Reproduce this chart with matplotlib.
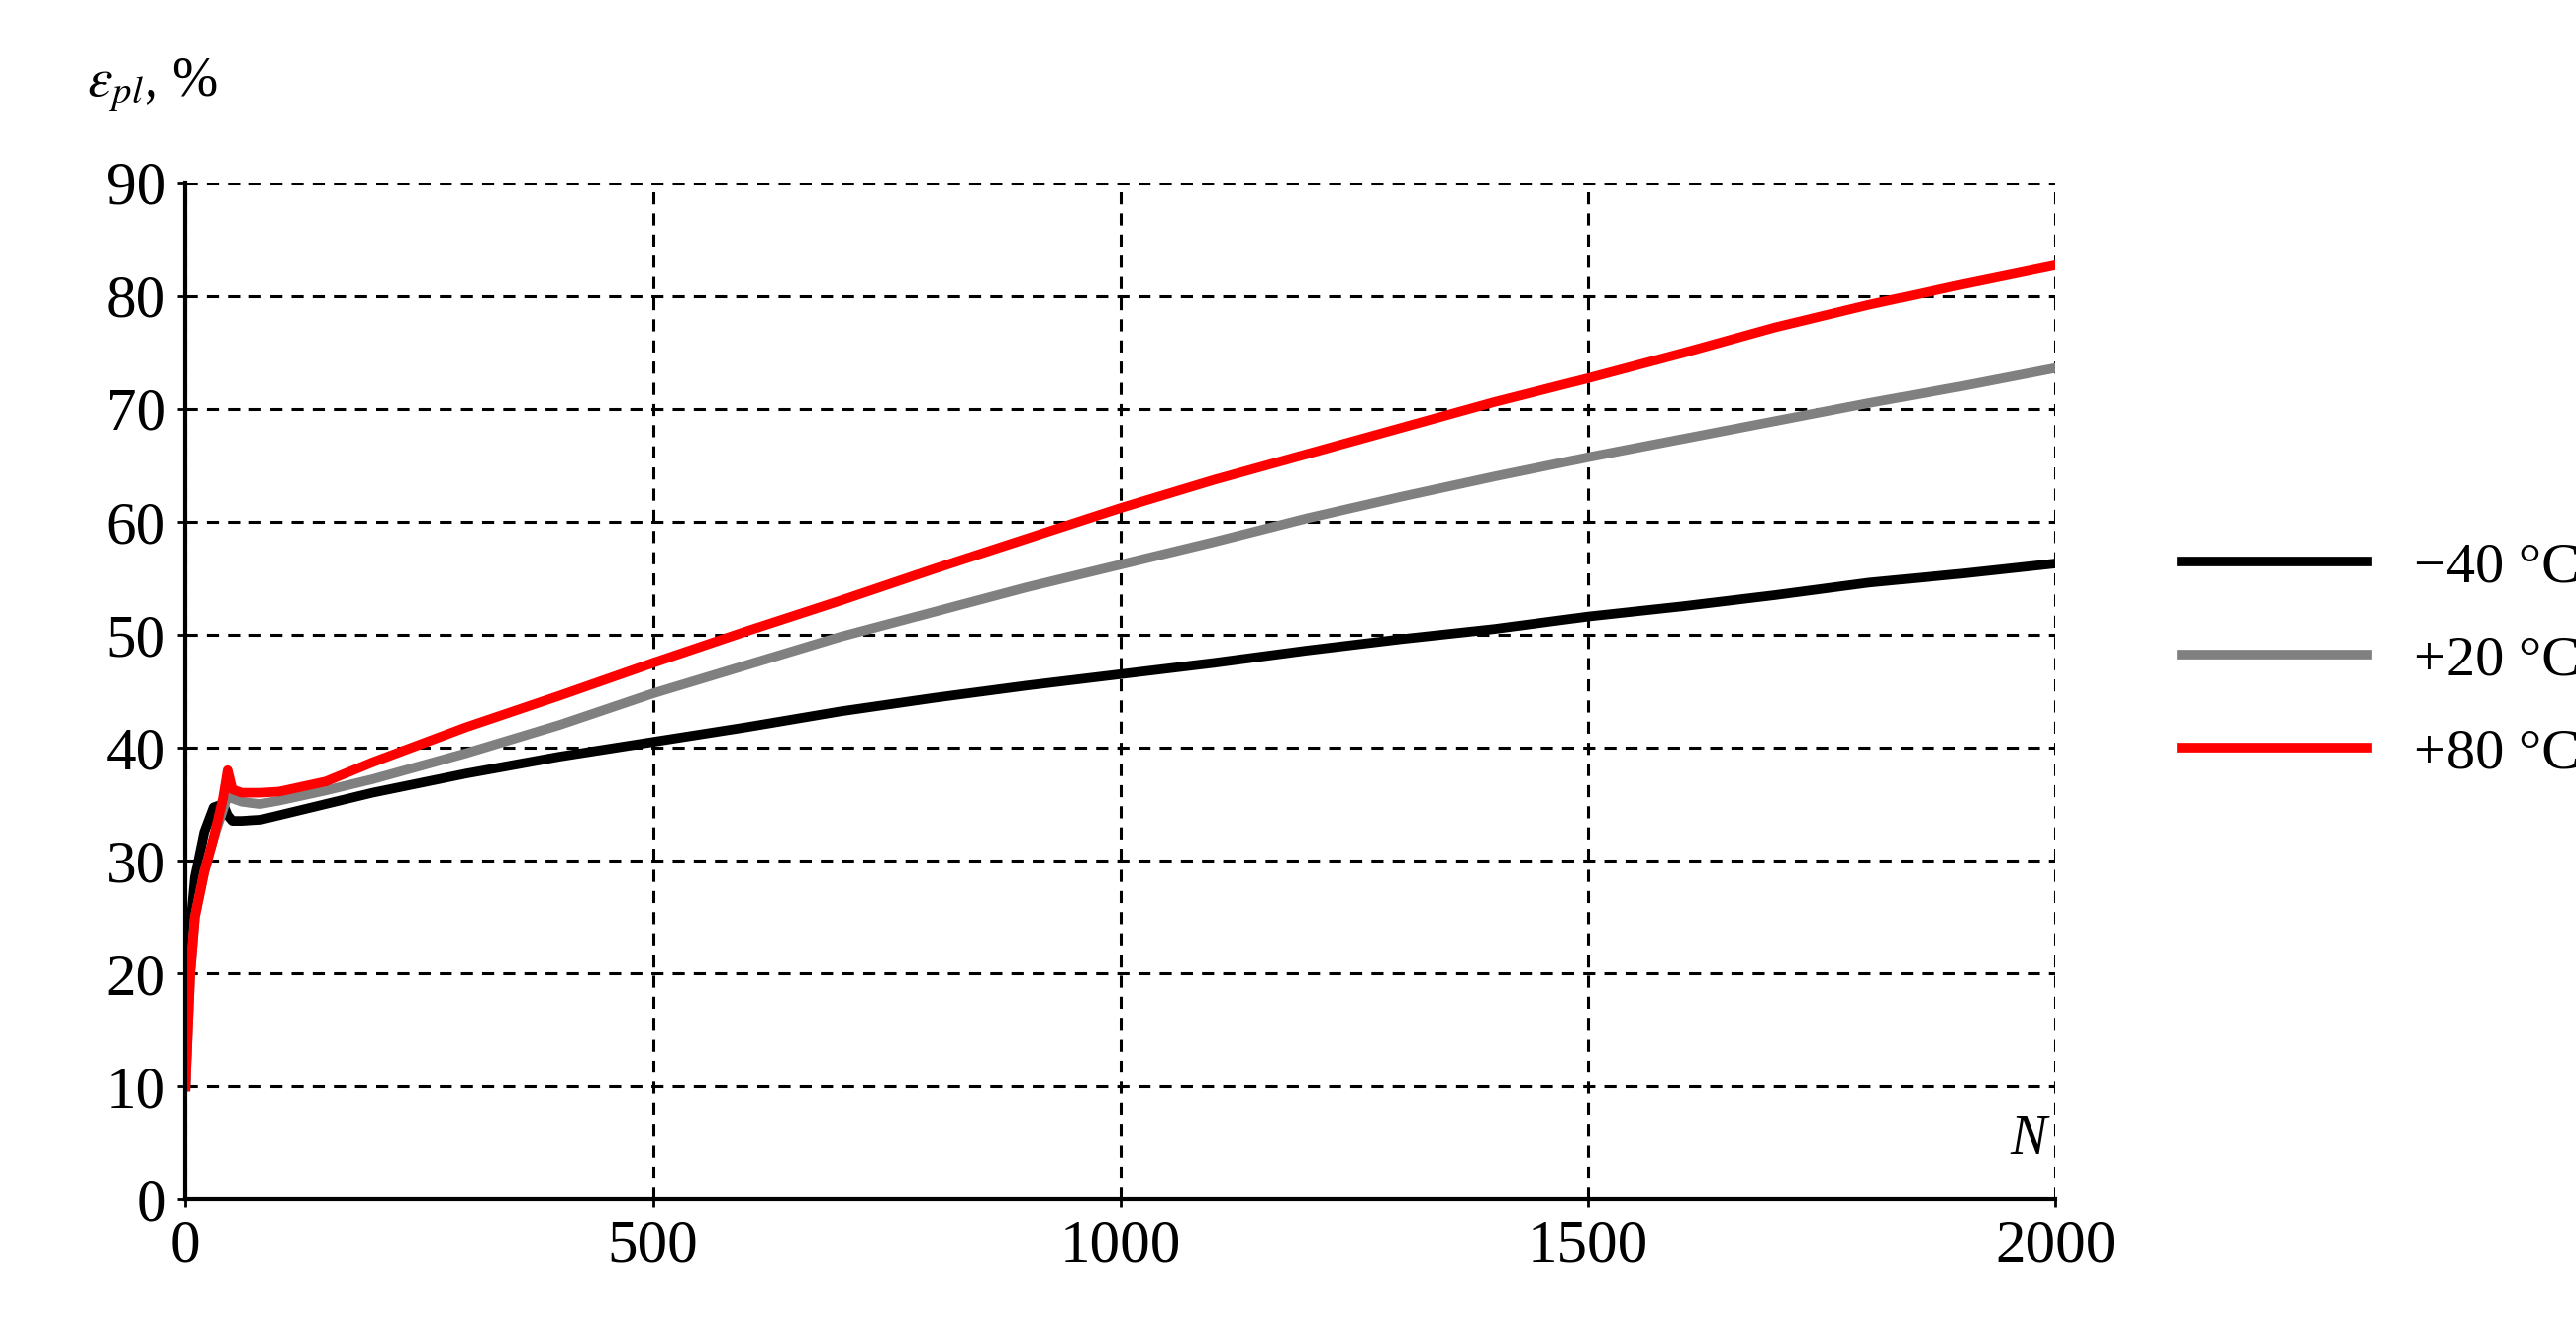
import matplotlib.pyplot as plt

plt.rcParams['font.family'] = ['Liberation Serif', 'DejaVu Serif']
plt.rcParams['mathtext.fontset'] = 'stix'

N = [0, 5, 10, 20, 30, 40, 45, 50, 60, 80, 100, 150, 200, 300, 400, 500,
     600, 700, 800, 900, 1000, 1100, 1200, 1300, 1400, 1500, 1600, 1700, 1800, 1900, 2000]
eps_m40 = [10, 24, 28.5, 32.5, 34.7, 35, 34, 33.5, 33.5, 33.6, 34, 35, 36, 37.7, 39.2, 40.5,
           41.8, 43.2, 44.4, 45.5, 46.5, 47.5, 48.6, 49.6, 50.5, 51.6, 52.5, 53.5, 54.6, 55.4, 56.3]
eps_p20 = [10, 20, 25, 29, 32, 34.5, 35.8, 35.5, 35.2, 35, 35.3, 36.2, 37.2, 39.5, 42, 44.8,
           47.3, 49.8, 52, 54.2, 56.2, 58.2, 60.3, 62.2, 64, 65.7, 67.3, 68.9, 70.5, 72, 73.6]
eps_p80 = [10, 20, 25, 29, 32, 35.5, 38, 36.3, 36, 36, 36.1, 37, 38.7, 41.8, 44.6, 47.5,
           50.3, 53, 55.8, 58.5, 61.2, 63.7, 66, 68.3, 70.6, 72.7, 74.9, 77.2, 79.2, 81, 82.7]
labels = ['\u221240 \u00b0C', '+20 \u00b0C', '+80 \u00b0C']
colors = ['black', '#808080', '#ff0000']

fig = plt.figure(figsize=(26.02, 13.37), dpi=100)
ax = fig.add_axes([0.072, 0.094, 0.726, 0.768])
for y, lab, c in zip([eps_m40, eps_p20, eps_p80], labels, colors):
    ax.plot(N, y, color=c, lw=7, label=lab, solid_joinstyle='round')

ax.set_xlim(0, 2000)
ax.set_ylim(0, 90)
ax.set_xticks([0, 500, 1000, 1500, 2000])
ax.set_yticks(range(0, 91, 10))
ax.grid(True, color='black', linestyle=(0, (4, 3)), lw=2.2)
ax.spines['top'].set_visible(False)
ax.spines['right'].set_visible(False)
ax.spines['left'].set_linewidth(3)
ax.spines['bottom'].set_linewidth(3)
ax.spines['left'].set_zorder(5)
ax.tick_params(labelsize=44, length=6, width=2, pad=8)
for t in ax.get_xticklabels() + ax.get_yticklabels():
    t.set_clip_on(False)
ax.set_axisbelow(True)

fig.text(0.034, 0.935, r'$\varepsilon_{pl}$, %', fontsize=40, ha='left', va='center')
ax.text(1990, 3, 'N', fontsize=40, style='italic', ha='right', va='bottom')

ax.legend(loc='center left', bbox_to_anchor=(1.04, 0.53), frameon=False,
          fontsize=42, handlelength=3.2, labelspacing=0.7)

fig.savefig('out.png', dpi=100)
